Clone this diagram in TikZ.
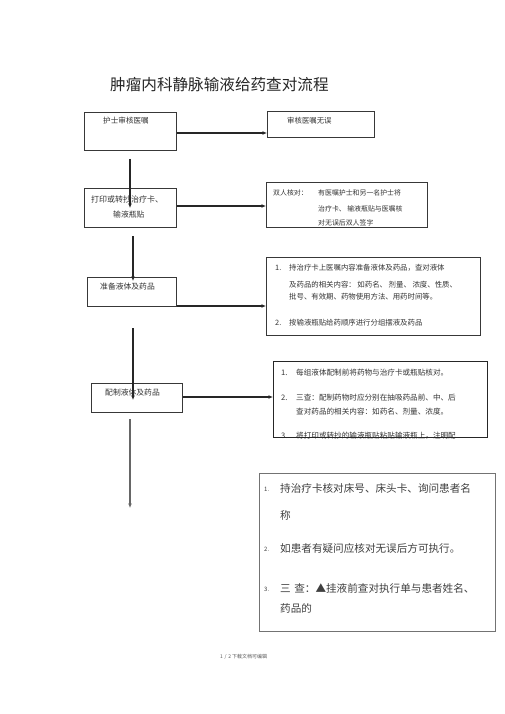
\documentclass[tikz,border=0pt]{standalone}
\usepackage{fontspec}
\setmainfont{Noto Sans CJK SC}
\usetikzlibrary{arrows.meta}
\begin{document}
\begin{tikzpicture}[x=1pt,y=-1pt,
  box/.style={draw=black!78, line width=0.9pt, anchor=north west, inner sep=0pt},
  txt/.style={anchor=west, inner sep=0pt, text=black!80},
  sm/.style={txt, font=\fontsize{7.6}{8}\selectfont},
  arr/.style={draw=black!85, line width=1.3pt, -{Latex[length=4.5pt,width=4pt]}},
  varr/.style={arr, line width=1.6pt},
]
\useasboundingbox[fill=white] (0,0) rectangle (505,714);

% title
\node[txt, text=black!85, font=\fontsize{15.6}{16}\selectfont] (title) at (110,85) {肿瘤内科静脉输液给药查对流程};

% texts
\node[sm] (t1) at (103,121) {护士审核医嘱};
\node[sm, font=\fontsize{7.4}{8}\selectfont] (t2) at (287,121) {审核医嘱无误};
\node[sm, font=\fontsize{8}{8}\selectfont] (t3a) at (91,199) {打印或转抄治疗卡、};
\node[sm, font=\fontsize{7.8}{8}\selectfont] (t3b) at (113,215) {输液瓶贴};
\node[sm, font=\fontsize{6.9}{8}\selectfont] (t4a) at (273,193) {双人核对：};
\node[sm, font=\fontsize{6.9}{8}\selectfont] (t4b) at (318,193) {有医嘱护士和另一名护士将};
\node[sm, font=\fontsize{6.9}{8}\selectfont] (t4c) at (318,209) {治疗卡、 输液瓶贴与医嘱核};
\node[sm, font=\fontsize{6.9}{8}\selectfont] (t4d) at (318,223) {对无误后双人签字};
\node[sm, font=\fontsize{7.8}{8}\selectfont] (t5) at (100,287) {准备液体及药品};
\node[sm, font=\fontsize{7.4}{8}\selectfont] (t6n1) at (275,268) {1.};
\node[sm, font=\fontsize{7.4}{8}\selectfont] (t6a) at (289,268) {持治疗卡上医嘱内容准备液体及药品，查对液体};
\node[sm, font=\fontsize{7.4}{8}\selectfont] (t6b) at (289,285) {及药品的相关内容： 如药名、 剂量、 浓度、性质、};
\node[sm, font=\fontsize{7.4}{8}\selectfont] (t6c) at (289,297) {批号、有效期、药物使用方法、用药时间等。};
\node[sm, font=\fontsize{7.4}{8}\selectfont] (t6n2) at (275,323) {2.};
\node[sm, font=\fontsize{7.4}{8}\selectfont] (t6d) at (289,323) {按输液瓶贴给药顺序进行分组摆液及药品};
\node[sm, font=\fontsize{7.8}{8}\selectfont] (t7) at (105,393) {配制液体及药品};
\node[sm, font=\fontsize{7.6}{8}\selectfont] (t8n1) at (281,373) {1.};
\node[sm, font=\fontsize{7.6}{8}\selectfont] (t8a) at (296,373) {每组液体配制前将药物与治疗卡或瓶贴核对。};
\node[sm, font=\fontsize{7.6}{8}\selectfont] (t8n2) at (281,398) {2.};
\node[sm, font=\fontsize{7.6}{8}\selectfont] (t8b) at (296,398) {三查：配制药物时应分别在抽吸药品前、中、后};
\node[sm, font=\fontsize{7.6}{8}\selectfont] (t8c) at (296,412) {查对药品的相关内容：如药名、剂量、浓度。};
\node[sm, font=\fontsize{7.6}{8}\selectfont] (t8n3) at (281,436) {3.};
\node[sm, font=\fontsize{7.6}{8}\selectfont] (t8d) at (296,436) {将打印或转抄的输液瓶贴粘贴输液瓶上，注明配};
\node[txt, text=black!75, font=\fontsize{6}{8}\selectfont] (t9n1) at (264,489) {1.};
\node[txt, text=black!75, font=\fontsize{10.6}{12}\selectfont] (t9a) at (280,488) {持治疗卡核对床号、床头卡、询问患者名};
\node[txt, text=black!75, font=\fontsize{10.6}{12}\selectfont] (t9b) at (280,515) {称};
\node[txt, text=black!75, font=\fontsize{6}{8}\selectfont] (t9n2) at (264,549) {2.};
\node[txt, text=black!75, font=\fontsize{10.6}{12}\selectfont] (t9c) at (280,548) {如患者有疑问应核对无误后方可执行。};
\node[txt, text=black!75, font=\fontsize{6}{8}\selectfont] (t9n3) at (264,589) {3.};
\node[txt, text=black!75, font=\fontsize{10.6}{12}\selectfont] (t9d) at (280,588) {三\,\,查：▲挂液前查对执行单与患者姓名、};
\node[txt, text=black!75, font=\fontsize{10.6}{12}\selectfont] (t9e) at (280,608) {药品的};
\node[txt, text=black!65, font=\fontsize{5}{6}\selectfont] (foot) at (220,657) {1\,\,/\,\,2 下载文档可编辑};

% boxes
\node[box, minimum width=92pt, minimum height=38pt] (b1) at (84,112) {};
\node[box, minimum width=107pt, minimum height=26pt] (b2) at (267,111) {};
\node[box, minimum width=92pt, minimum height=39pt] (b3) at (84,188) {};
\node[box, minimum width=161pt, minimum height=45pt] (b4) at (266,182) {};
\node[box, minimum width=89pt, minimum height=29pt] (b5) at (87,277) {};
\node[box, minimum width=214pt, minimum height=78pt] (b6) at (266,257) {};
\node[box, minimum width=91pt, minimum height=29pt] (b7) at (91,383) {};
\node[box, draw=black!85, line width=1.2pt, minimum width=214pt, minimum height=76pt] (b8) at (273,361) {};
\node[box, draw=black!55, minimum width=236pt, minimum height=158pt] (b9) at (259,473) {};

% horizontal connectors
\coordinate (h1) at (0,133);
\coordinate (h2) at (0,206);
\coordinate (h3) at (0,306);
\coordinate (h4) at (0,397);
\draw[arr] (b1.east |- h1) -- (b2.west |- h1);
\draw[arr] (b3.east |- h2) -- (b4.west |- h2);
\draw[arr] (b5.east |- h3) -- (b6.west |- h3);
\draw[arr] (b7.east |- h4) -- (b8.west |- h4);

% vertical connectors
\coordinate (v1s) at (130,159);
\coordinate (v1e) at (130,208);
\coordinate (v2s) at (133,236);
\coordinate (v2e) at (133,281);
\coordinate (v3s) at (133,328);
\coordinate (v3e) at (133,400);
\coordinate (v4s) at (130,419);
\coordinate (v4e) at (130,508);
\draw[varr] (v1s) -- (v1e);
\draw[varr] (v2s) -- (v2e);
\draw[varr] (v3s) -- (v3e);
\draw[varr, draw=black!60, line width=1.8pt] (v4s) -- (v4e);
\end{tikzpicture}
\end{document}
